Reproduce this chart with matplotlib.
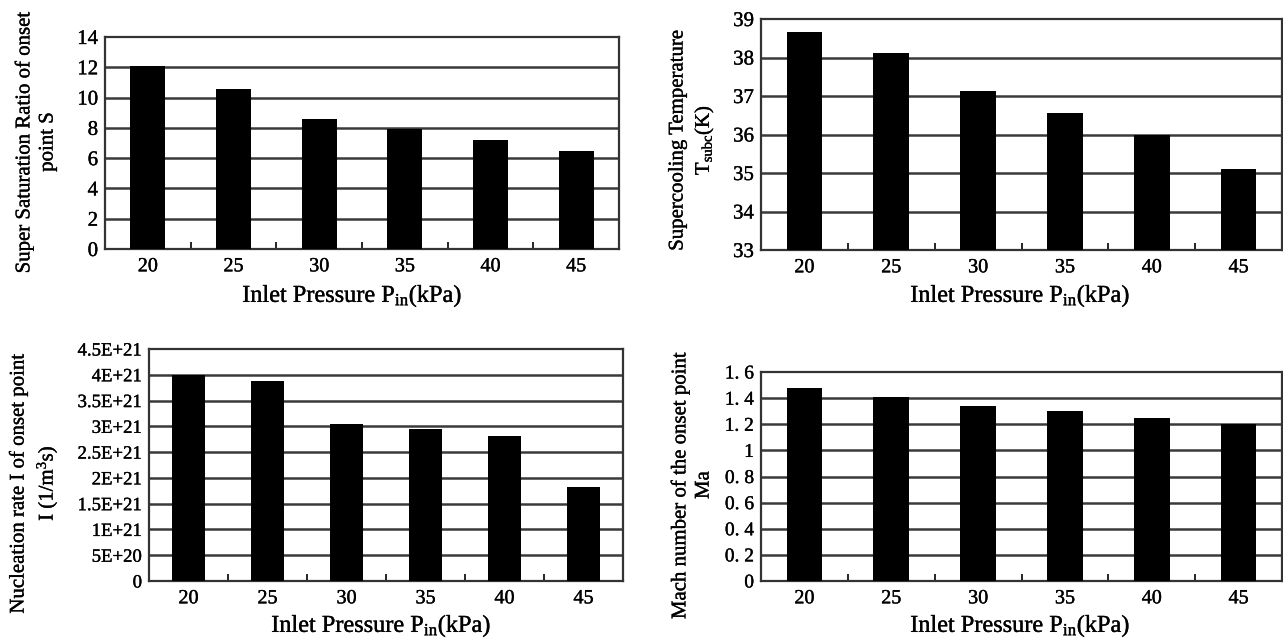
import matplotlib
matplotlib.use("Agg")
import matplotlib.pyplot as plt
import matplotlib.patheffects as pe

plt.rcParams['font.family'] = ['Liberation Serif', 'DejaVu Serif']
plt.rcParams['mathtext.fontset'] = 'custom'
plt.rcParams['mathtext.rm'] = 'Liberation Serif'
plt.rcParams['mathtext.it'] = 'Liberation Serif'

pressures = ["20", "25", "30", "35", "40", "45"]

saturation = [12.1, 10.55, 8.6, 7.95, 7.2, 6.5]
supercool = [38.65, 38.12, 37.13, 36.55, 35.98, 35.1]
nucleation = [4.0e21, 3.88e21, 3.05e21, 2.95e21, 2.82e21, 1.82e21]
mach = [1.48, 1.41, 1.34, 1.30, 1.25, 1.20]

sat_ticks = [0, 2, 4, 6, 8, 10, 12, 14]
sat_labels = ["0", "2", "4", "6", "8", "10", "12", "14"]
sub_ticks = [33, 34, 35, 36, 37, 38, 39]
sub_labels = ["33", "34", "35", "36", "37", "38", "39"]
nuc_ticks = [0, 5e20, 1e21, 1.5e21, 2e21, 2.5e21, 3e21, 3.5e21, 4e21, 4.5e21]
nuc_labels = ["0", "5E+20", "1E+21", "1.5E+21", "2E+21", "2.5E+21", "3E+21",
              "3.5E+21", "4E+21", "4.5E+21"]
mach_ticks = [0, 0.2, 0.4, 0.6, 0.8, 1.0, 1.2, 1.4, 1.6]
mach_labels = ["0", "0. 2", "0. 4", "0. 6", "0. 8", "1", "1. 2", "1. 4", "1. 6"]

W, H = 1283, 640
fig = plt.figure(figsize=(W / 100, H / 100), dpi=100)
thick = [pe.withStroke(linewidth=0.25, foreground='black')]


def px_axes(left, top, right, bottom):
    return fig.add_axes([left / W, 1 - bottom / H, (right - left) / W, (bottom - top) / H])


def draw(ax, values, ticks, labels, ylim, ysize):
    x = list(range(len(pressures)))
    ax.set_ylim(*ylim)
    ax.set_xlim(-0.5, len(pressures) - 0.5)
    ax.set_yticks(ticks)
    ax.set_yticklabels(labels)
    for t in ticks[1:-1]:
        ax.axhline(t, color='#3a3a3a', lw=1.8, zorder=1)
    ax.bar(x, [v - ylim[0] for v in values], bottom=ylim[0], width=0.41,
           color='black', zorder=3)
    ax.set_xticks(x)
    ax.set_xticklabels(pressures)
    ax.set_xticks([i + 0.5 for i in x[:-1]], minor=True)
    ax.tick_params(axis='x', which='major', length=0, pad=6, labelsize=14.5)
    ax.tick_params(axis='x', which='minor', direction='in', length=5, width=1.2)
    ax.tick_params(axis='y', length=0, pad=5, labelsize=ysize)
    for lab in ax.get_xticklabels() + ax.get_yticklabels():
        lab.set_path_effects(thick)
    for s in ax.spines.values():
        s.set_color('#333333')
        s.set_linewidth(1.6)


ax1 = px_axes(105, 37, 619, 249)
draw(ax1, saturation, sat_ticks, sat_labels, (0, 14), 15)
ax2 = px_axes(761, 19, 1282, 250)
draw(ax2, supercool, sub_ticks, sub_labels, (33, 39), 15)
ax3 = px_axes(149, 349, 623, 581)
draw(ax3, nucleation, nuc_ticks, nuc_labels, (0, 4.5e21), 13.5)
ax4 = px_axes(761, 372, 1282, 581)
draw(ax4, mach, mach_ticks, mach_labels, (0, 1.6), 14)

xl = "Inlet Pressure P$_{\\mathrm{in}}$(kPa)"
xfs = 17.5
yfs = 15
kw = dict(path_effects=thick)
fig.text(352 / W, 1 - 296 / H, xl, ha='center', va='center', fontsize=xfs, **kw)
fig.text(1020 / W, 1 - 296 / H, xl, ha='center', va='center', fontsize=xfs, **kw)
fig.text(381 / W, 1 - 626 / H, xl, ha='center', va='center', fontsize=xfs, **kw)
fig.text(1020 / W, 1 - 626 / H, xl, ha='center', va='center', fontsize=xfs, **kw)

fig.text(36 / W, 1 - 142 / H, "Super Saturation Ratio of onset\npoint S",
         ha='center', va='center', rotation=90, fontsize=yfs, linespacing=1.3, **kw)
fig.text(692 / W, 1 - 140 / H, "Supercooling Temperature\nT$_{\\mathrm{subc}}$(K)",
         ha='center', va='center', rotation=90, fontsize=yfs, linespacing=1.3, **kw)
fig.text(34 / W, 1 - 483 / H, "Nucleation rate I of onset point\nI (1/m$^{3}$s)",
         ha='center', va='center', rotation=90, fontsize=yfs, linespacing=1.3, **kw)
fig.text(692 / W, 1 - 485 / H, "Mach number of the onset point\nMa",
         ha='center', va='center', rotation=90, fontsize=yfs, linespacing=1.3, **kw)

fig.savefig("out.png", dpi=100)
